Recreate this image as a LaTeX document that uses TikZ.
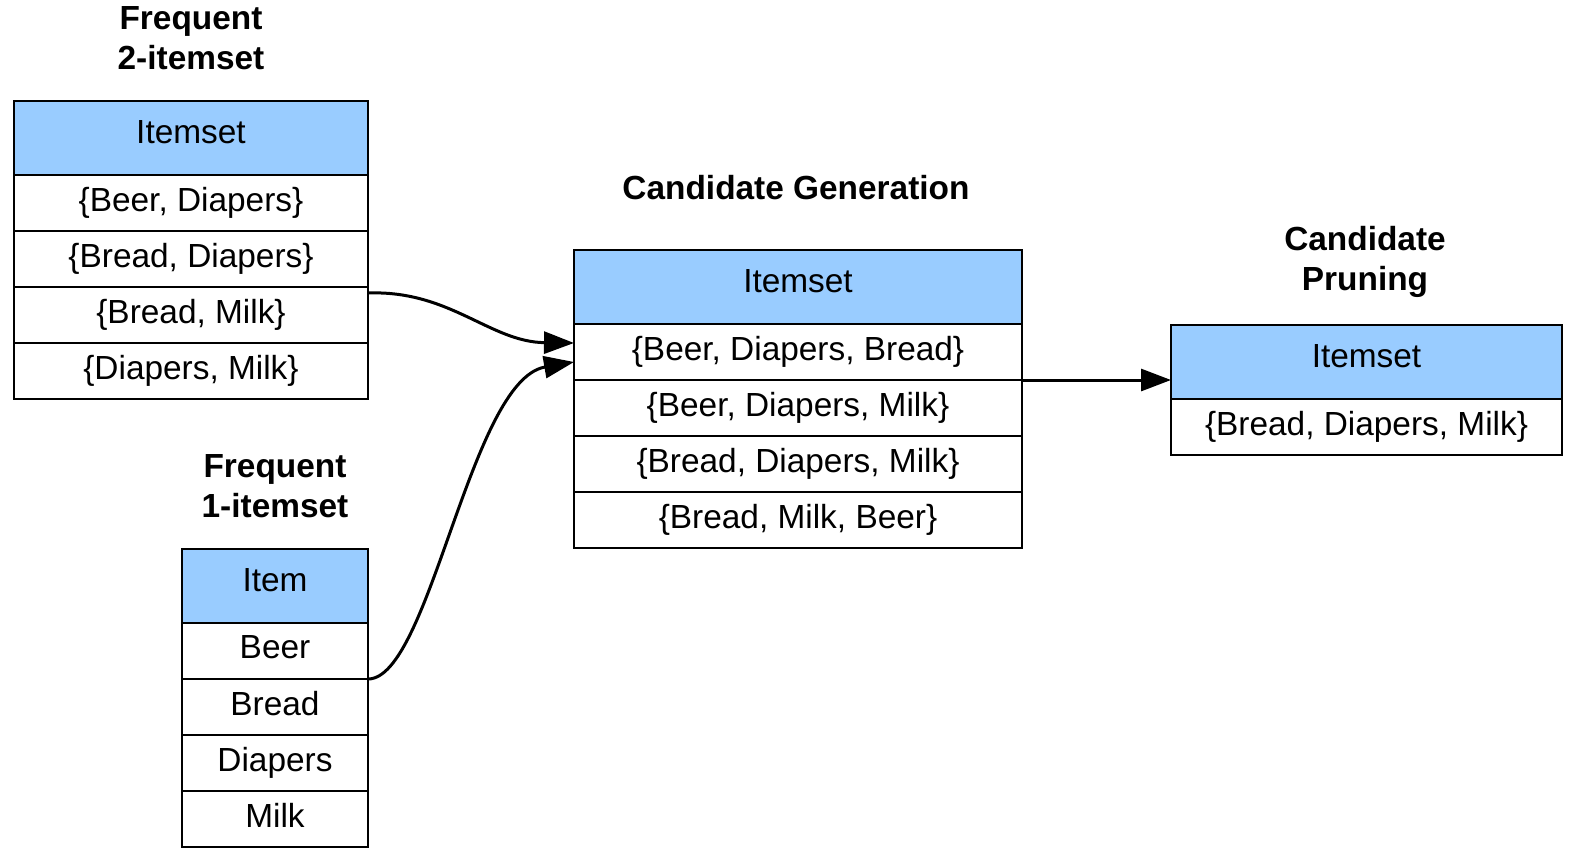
\documentclass[tikz,border=0pt]{standalone}
\usepackage{fontspec}
\setmainfont{Liberation Sans}
\usetikzlibrary{arrows.meta,calc}
\definecolor{hdrblue}{HTML}{99CCFF}
\begin{document}
\begin{tikzpicture}[x=1bp,y=-1bp,
  cell/.style={draw=black,line width=2bp,fill=white,inner sep=0pt,outer sep=0pt,
    font=\fontsize{33.4bp}{40bp}\selectfont},
  hdr/.style={cell,fill=hdrblue,minimum height=74bp,text depth=12bp},
  rowc/.style={cell,minimum height=56bp,text depth=7bp},
  ttl/.style={align=center,inner sep=0pt,font=\fontsize{33.4bp}{40bp}\selectfont\bfseries},
  conn/.style={line width=3bp,-{Triangle[length=30bp,width=22bp]}}]
\useasboundingbox (0,0) rectangle (1576,865);
% Table 1: Frequent 2-itemset
\begin{scope}[every node/.append style={minimum width=354bp}]
\node[hdr]  (t1h) at (191,138) {Itemset};
\node[rowc] (t1r1) at (191,203) {\{Beer, Diapers\}};
\node[rowc] (t1r2) at (191,259) {\{Bread, Diapers\}};
\node[rowc] (t1r3) at (191,315) {\{Bread, Milk\}};
\node[rowc] (t1r4) at (191,371) {\{Diapers, Milk\}};
\end{scope}
\node[ttl] (t1t) at (191,38) {Frequent\\2-itemset};
% Table 2: Frequent 1-itemset
\begin{scope}[every node/.append style={minimum width=186bp}]
\node[hdr]  (t2h) at (275,586) {Item};
\node[rowc] (t2r1) at (275,651) {Beer};
\node[rowc] (t2r2) at (275,707) {Bread};
\node[rowc] (t2r3) at (275,763) {Diapers};
\node[rowc] (t2r4) at (275,819) {Milk};
\end{scope}
\node[ttl] (t2t) at (275,486) {Frequent\\1-itemset};
% Table 3: Candidate Generation
\begin{scope}[every node/.append style={minimum width=448bp}]
\node[hdr]  (t3h) at (798,287) {Itemset};
\node[rowc] (t3r1) at (798,352) {\{Beer, Diapers, Bread\}};
\node[rowc] (t3r2) at (798,408) {\{Beer, Diapers, Milk\}};
\node[rowc] (t3r3) at (798,464) {\{Bread, Diapers, Milk\}};
\node[rowc] (t3r4) at (798,520) {\{Bread, Milk, Beer\}};
\end{scope}
\node[ttl] (t3t) at (796,188) {Candidate Generation};
% Table 4: Candidate Pruning
\begin{scope}[every node/.append style={minimum width=391bp}]
\node[hdr]  (t4h) at (1366.5,362) {Itemset};
\node[rowc] (t4r1) at (1366.5,427) {\{Bread, Diapers, Milk\}};
\end{scope}
\node[ttl] (t4t) at (1365,262) {Candidate\\Pruning};
% Connectors
\coordinate (s1) at ($(t1r3.north east)+(0,6)$);
\coordinate (e1) at ($(t3r1.west)+(0,-9)$);
\coordinate (e2) at ($(t3r1.west)+(0,10)$);
\draw[conn] (s1) .. controls (450,290) and (490,342) .. (e1);
\draw[conn] (t2r1.south east) .. controls (430,679) and (470,380) .. (e2);
\draw[conn] (t3r1.south east) -- (t4h.west |- t3r1.south east);
\end{tikzpicture}
\end{document}
